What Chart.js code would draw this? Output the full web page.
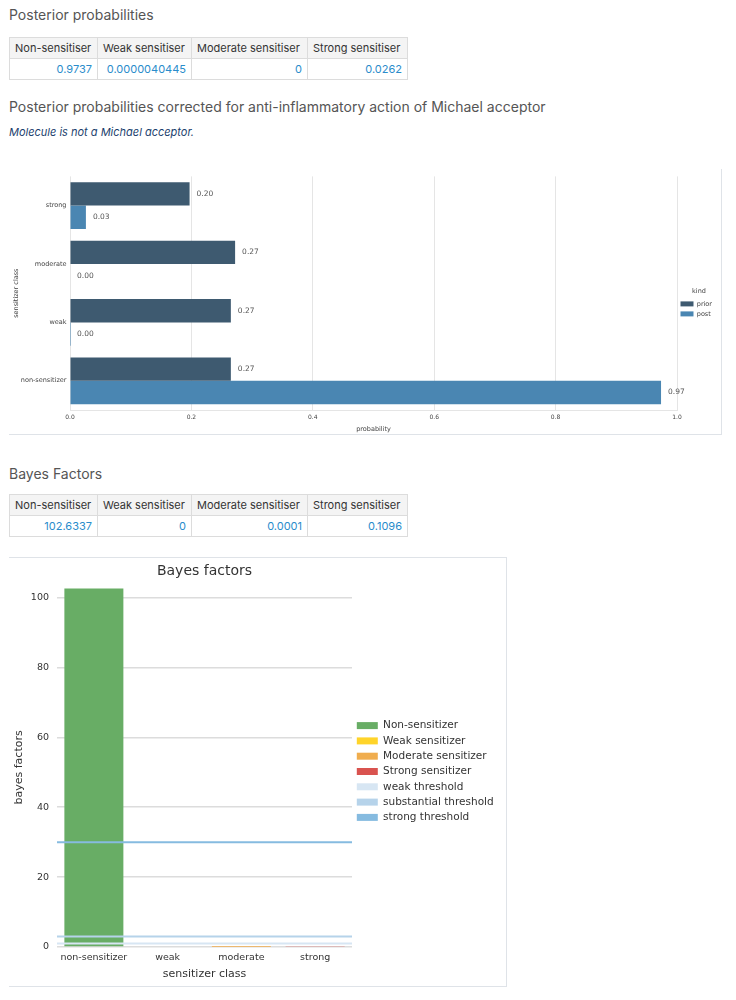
<!DOCTYPE html>
<html>
<head>
<meta charset="utf-8">
<script src="https://cdn.jsdelivr.net/npm/chart.js@4.4.0/dist/chart.umd.min.js"></script>
<style>
body { margin: 0; background: #fff; font-family: Inter, "Noto Sans", sans-serif; width: 736px; height: 1000px; position: relative; }
.h { position: absolute; left: 9px; font-size: 14px; line-height: 20px; color: #555; }
table { position: absolute; left: 9px; width: 398px; border-collapse: collapse; table-layout: fixed; font-size: 11px; }
th, td { border: 1px solid #dcdcdc; padding: 0 5px; height: 20px; white-space: nowrap; overflow: hidden; }
th { background: #f4f4f4; color: #333; font-weight: normal; text-align: left; }
td { color: #2a8ccb; text-align: right; }
.note { position: absolute; left: 9px; top: 124px; font-size: 11px; line-height: 16px; font-style: italic; color: #1d3f6e; }
#box1 { position: absolute; left: 9px; top: 169px; width: 712px; height: 265px; border-right: 1px solid #dfe3e8; border-bottom: 1px solid #dfe3e8; }
#box2 { position: absolute; left: 9px; top: 557px; width: 497px; height: 428px; border: 1px solid #dfe3e8; border-left: none; }
</style>
</head>
<body>
<div class="h" style="top:5px">Posterior probabilities</div>
<table id="tbl-post" style="top:37px"></table>
<div class="h" style="top:97px">Posterior probabilities corrected for anti-inflammatory action of Michael acceptor</div>
<div class="note">Molecule is not a Michael acceptor.</div>
<div id="box1"><canvas id="prob-chart" width="712" height="265"></canvas></div>
<div class="h" style="top:464px">Bayes Factors</div>
<table id="tbl-bf" style="top:494px"></table>
<div id="box2"><canvas id="bf-chart" width="497" height="427"></canvas></div>

<script>
// table contents
const tableHeads = ['Non-sensitiser', 'Weak sensitiser', 'Moderate sensitiser', 'Strong sensitiser'];
const colWidths = [88, 94, 116, 100];
const postTableValues = ['0.9737', '0.0000040445', '0', '0.0262'];
const bfTableValues = ['102.6337', '0', '0.0001', '0.1096'];

// posterior chart
const probClasses = ['strong', 'moderate', 'weak', 'non-sensitizer'];
const priorProb = [0.197, 0.272, 0.265, 0.265];
const postProb = [0.0262, 0, 0.0000040445, 0.9737];

// bayes factor chart
const bfClasses = ['non-sensitizer', 'weak', 'moderate', 'strong'];
const bfLabels = ['Non-sensitizer', 'Weak sensitizer', 'Moderate sensitizer', 'Strong sensitizer'];
const bayesFactors = [102.6337, 0, 0.0001, 0.1096];
const bfTicks = [0, 20, 40, 60, 80, 100];
const thresholdNames = ['weak threshold', 'substantial threshold', 'strong threshold'];
const thresholdValues = [1, 3, 30];

function fillTable(id, values) {
    const t = document.getElementById(id);
    let html = '<colgroup>';
    colWidths.forEach(w => { html += '<col style="width:' + w + 'px">'; });
    html += '</colgroup><tr>';
    tableHeads.forEach(h => { html += '<th>' + h + '</th>'; });
    html += '</tr><tr>';
    values.forEach(v => { html += '<td>' + v + '</td>'; });
    html += '</tr>';
    t.innerHTML = html;
}
fillTable('tbl-post', postTableValues);
fillTable('tbl-bf', bfTableValues);

Chart.defaults.font.family = '"DejaVu Sans", sans-serif';

const valueLabels = {
    id: 'valueLabels',
    afterDatasetsDraw(chart) {
        const ctx = chart.ctx;
        ctx.save();
        ctx.font = '7.5px "DejaVu Sans"';
        ctx.fillStyle = '#555';
        ctx.textBaseline = 'middle';
        chart.data.datasets.forEach((ds, i) => {
            chart.getDatasetMeta(i).data.forEach((bar, j) => {
                ctx.fillText(ds.data[j].toFixed(2), bar.x + 7, bar.y);
            });
        });
        ctx.restore();
    }
};

// right-hand legends are capped at a quarter of the canvas, this sets the width directly
const fixedLegend = {
    id: 'fixedLegend',
    afterInit(chart, args, opts) {
        if (!opts.width) return;
        const legend = chart.legend;
        const fit = legend.fit;
        legend.fit = function() {
            fit.call(this);
            this.width = opts.width;
        };
    }
};

new Chart(document.getElementById('prob-chart'), {
    type: 'bar',
    data: {
        labels: probClasses,
        datasets: [
            { label: 'prior', data: priorProb, backgroundColor: '#3e5a70' },
            { label: 'post', data: postProb, backgroundColor: '#4a86b2' }
        ]
    },
    options: {
        indexAxis: 'y',
        responsive: false,
        animation: false,
        categoryPercentage: 0.8,
        barPercentage: 1,
        layout: { padding: { left: 0, top: 5, right: 0, bottom: 0 } },
        plugins: {
            fixedLegend: { width: 44 },
            legend: {
                position: 'right',
                title: { display: true, text: 'kind', font: { size: 6.5 }, color: '#444', padding: 1 },
                labels: { boxWidth: 13, boxHeight: 5, font: { size: 6.5 }, color: '#444', padding: 3.5 }
            },
            tooltip: { enabled: false }
        },
        scales: {
            x: {
                min: 0,
                max: 1,
                ticks: { stepSize: 0.2, callback: v => v.toFixed(1), font: { size: 6 }, color: '#444', padding: 4 },
                grid: { color: '#e5e5e5', drawTicks: false },
                border: { color: '#e5e5e5' },
                title: { display: true, text: 'probability', font: { size: 6.5 }, color: '#444', padding: 1 },
                afterFit: s => { s.height = 24; }
            },
            y: {
                grid: { display: false, drawTicks: false },
                border: { display: false },
                ticks: { font: { size: 6.5 }, color: '#444', padding: 3.5 },
                title: { display: true, text: 'sensitizer class', font: { size: 6.5 }, color: '#444', padding: { top: 3 } },
                afterFit: s => { s.width = 61; }
            }
        }
    },
    plugins: [valueLabels, fixedLegend]
});

const bfColors = ['#68ad65', '#ffd42a', '#f0ad4e', '#d9534f'];
const thresholdColors = ['#d7e6f3', '#b6d3ea', '#86bbe0'];

const bfDatasets = bfLabels.map((name, i) => ({
    type: 'bar',
    label: name,
    data: bayesFactors.map((v, j) => (j === i ? v : null)),
    backgroundColor: bfColors[i],
    grouped: false,
    order: 1
})).concat(thresholdNames.map((name, i) => ({
    type: 'line',
    label: name,
    data: [{ x: -0.5, y: thresholdValues[i] }, { x: 3.5, y: thresholdValues[i] }],
    xAxisID: 'x2',
    borderColor: thresholdColors[i],
    backgroundColor: thresholdColors[i],
    borderWidth: 2,
    pointRadius: 0,
    order: 0
})));

new Chart(document.getElementById('bf-chart'), {
    type: 'bar',
    data: { labels: bfClasses, datasets: bfDatasets },
    options: {
        responsive: false,
        animation: false,
        categoryPercentage: 0.8,
        barPercentage: 1,
        layout: { padding: { left: 0, top: 0, right: 0, bottom: 0 } },
        plugins: {
            fixedLegend: { width: 154 },
            title: { display: true, fullSize: false, text: 'Bayes factors', font: { size: 14, weight: 'normal' }, color: '#333', padding: { top: 5, bottom: 8 } },
            legend: {
                position: 'right',
                labels: {
                    boxWidth: 21,
                    boxHeight: 7,
                    font: { size: 10.5 },
                    color: '#333',
                    padding: 4.8,
                    sort: (a, b) => a.datasetIndex - b.datasetIndex,
                    generateLabels: chart => Chart.defaults.plugins.legend.labels.generateLabels(chart).map(l => Object.assign(l, { lineWidth: 0 }))
                }
            },
            tooltip: { enabled: false }
        },
        scales: {
            x: {
                grid: { display: false, drawTicks: false },
                border: { display: false },
                ticks: { font: { size: 9.5 }, color: '#333', padding: 5, maxRotation: 0, minRotation: 0, autoSkip: false },
                title: { display: true, text: 'sensitizer class', font: { size: 11 }, color: '#333', padding: { top: 2 } },
                afterFit: s => { s.height = 38; }
            },
            x2: { type: 'linear', display: false, offset: false, min: -0.5, max: 3.5 },
            y: {
                min: 0,
                max: 102.8,
                ticks: { font: { size: 9.5 }, color: '#333', padding: 8 },
                afterBuildTicks: s => { s.ticks = bfTicks.map(v => ({ value: v })); },
                grid: { color: '#dcdcdc', lineWidth: 1.5, drawTicks: false },
                border: { display: false },
                title: { display: true, text: 'bayes factors', font: { size: 11 }, color: '#333', padding: { top: 4 } },
                afterFit: s => { s.width = 48; }
            }
        }
    },
    plugins: [fixedLegend]
});
</script>
</body>
</html>
